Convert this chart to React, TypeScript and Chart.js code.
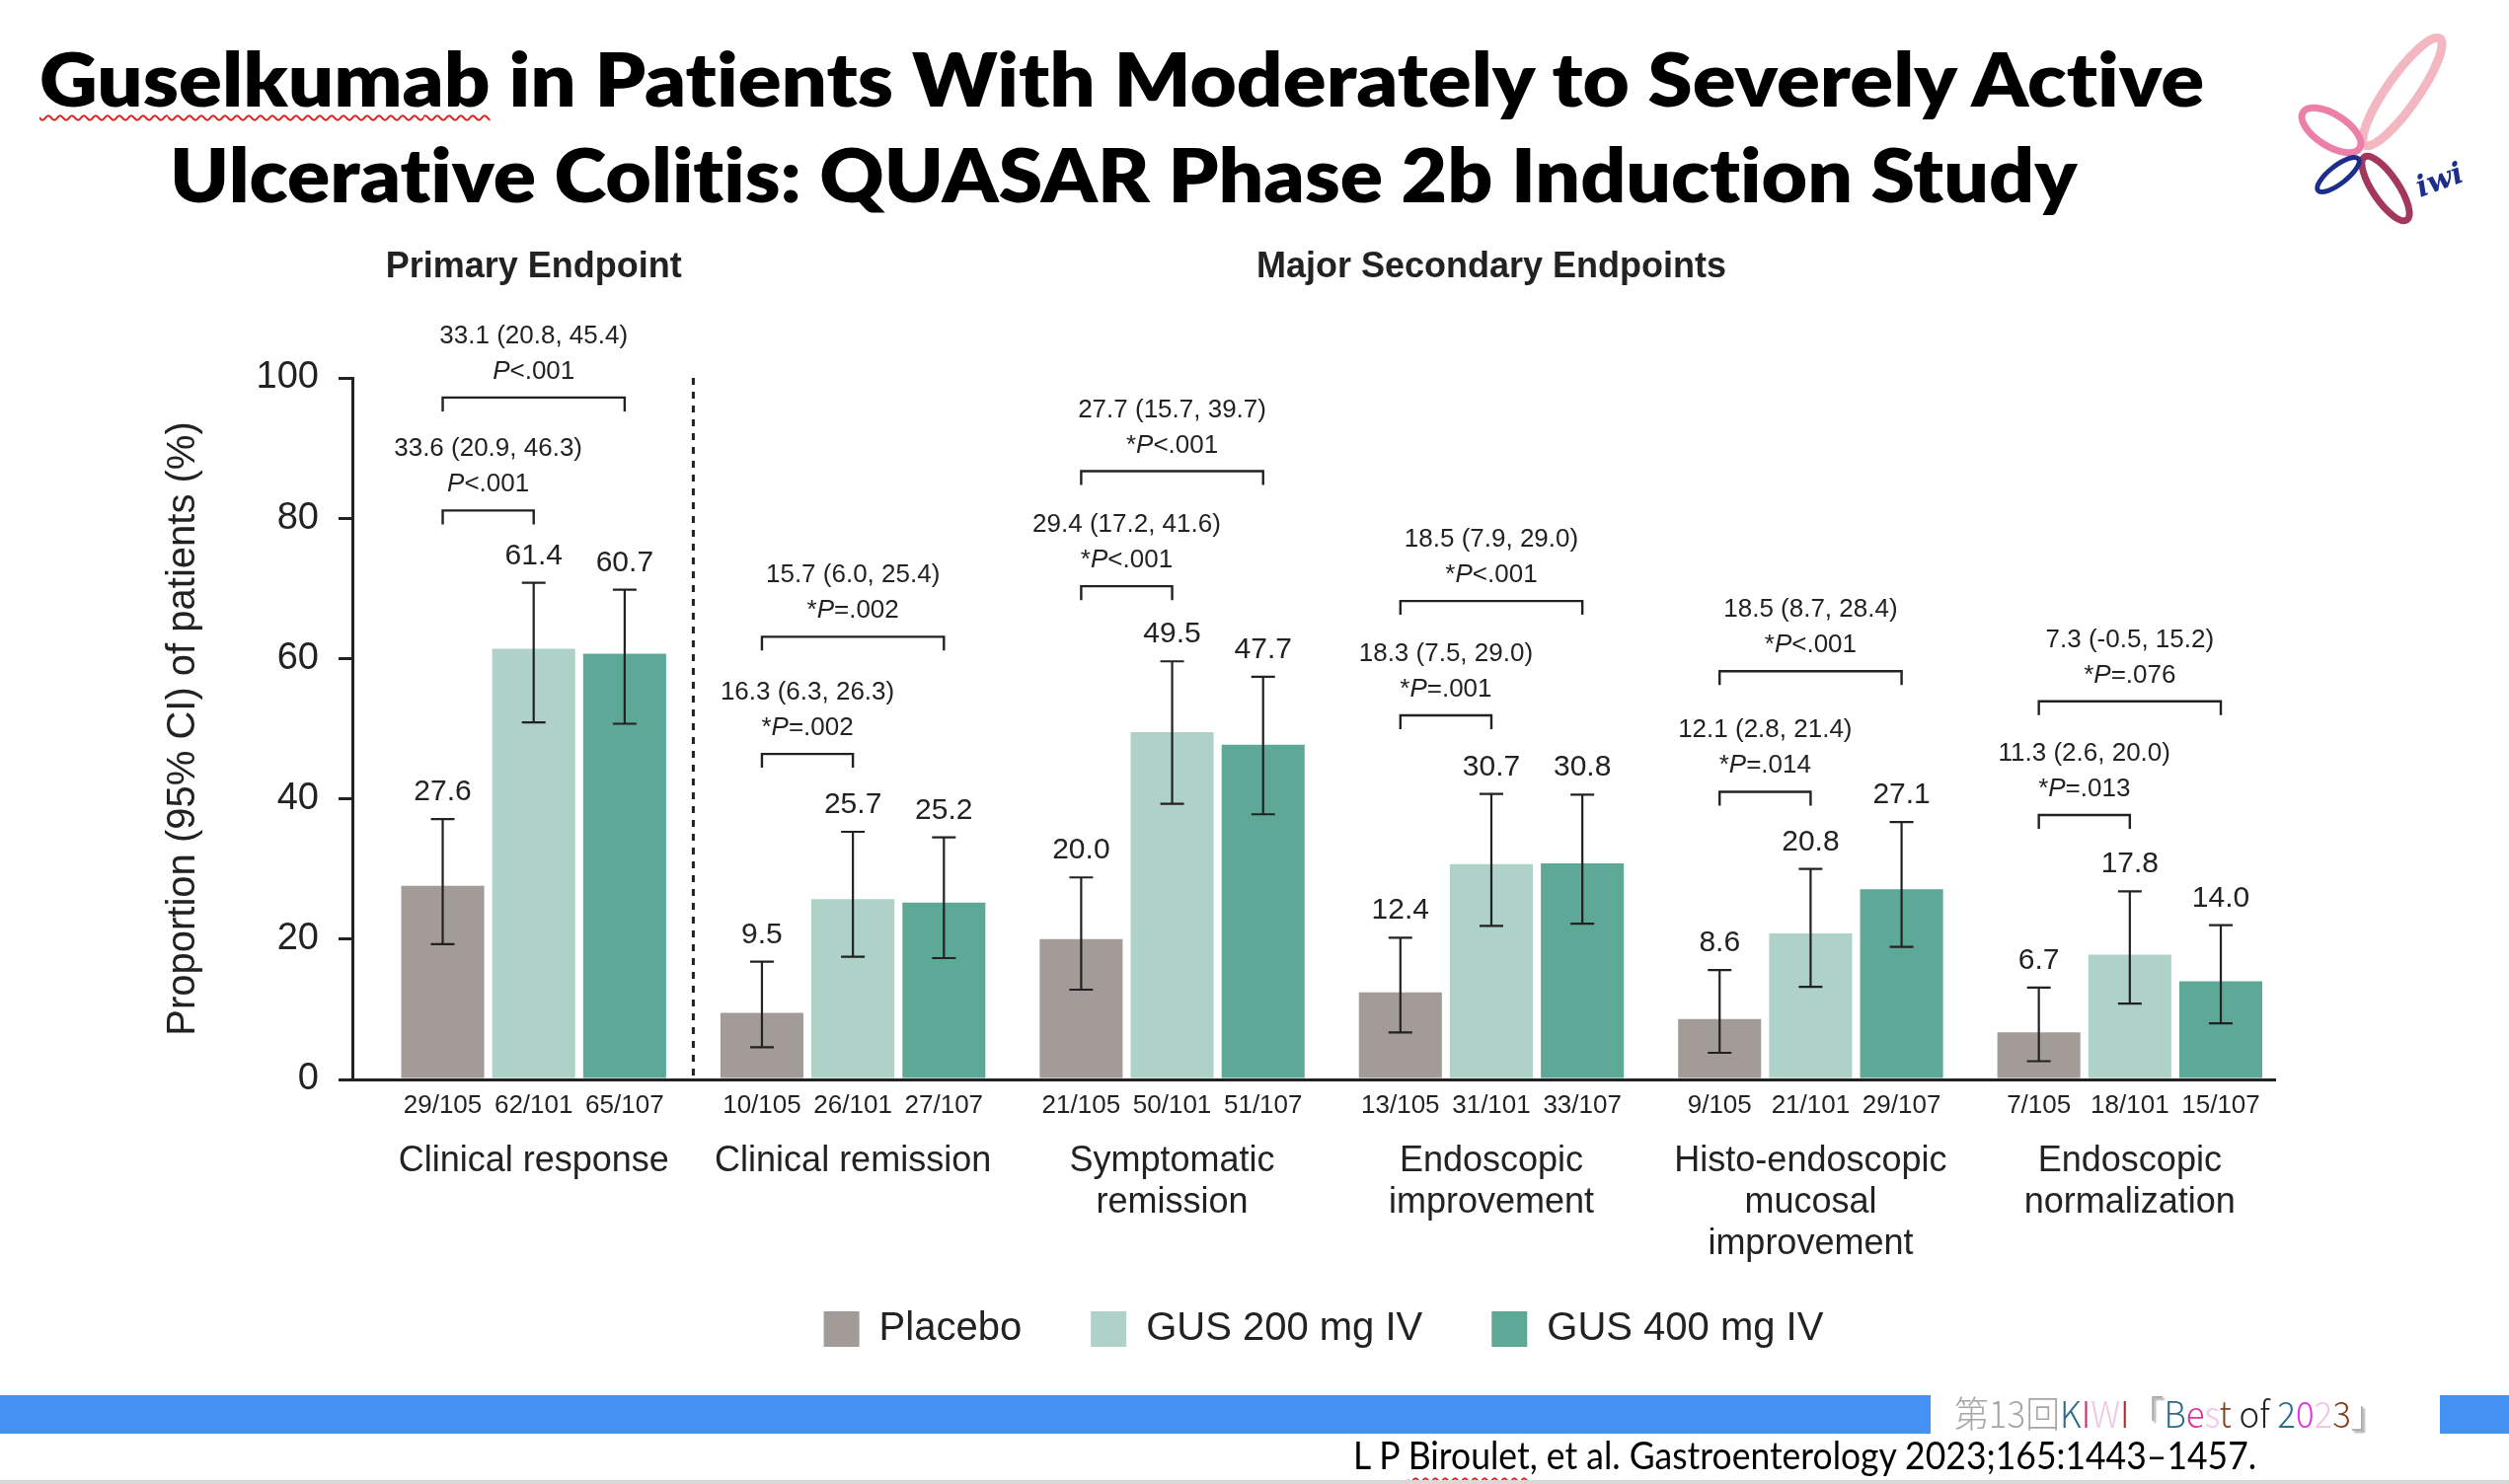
import React, { useEffect, useLayoutEffect, useRef } from "react";
import { Chart, registerables } from "chart.js";

Chart.register(...registerables);

// ---------------- data ----------------
const categories: string[][] = [
  ["Clinical response"],
  ["Clinical remission"],
  ["Symptomatic", "remission"],
  ["Endoscopic", "improvement"],
  ["Histo-endoscopic", "mucosal", "improvement"],
  ["Endoscopic", "normalization"],
];
const seriesNames = ["Placebo", "GUS 200 mg IV", "GUS 400 mg IV"];
const seriesColors = ["#a39b97", "#aed2c7", "#5da897"];

const placebo = [27.6, 9.5, 20.0, 12.4, 8.6, 6.7];
const gus200 = [61.4, 25.7, 49.5, 30.7, 20.8, 17.8];
const gus400 = [60.7, 25.2, 47.7, 30.8, 27.1, 14.0];

const placeboLo = [19.3, 4.6, 12.8, 6.7, 3.8, 2.6];
const placeboHi = [37.1, 16.8, 28.8, 20.2, 15.6, 13.1];
const gus200Lo = [50.9, 17.5, 39.3, 21.9, 13.2, 10.8];
const gus200Hi = [70.8, 35.3, 59.6, 40.7, 30.0, 26.8];
const gus400Lo = [50.7, 17.3, 37.8, 22.2, 18.9, 8.0];
const gus400Hi = [69.8, 34.5, 57.4, 40.6, 36.7, 22.0];

const placeboN = ["29/105", "10/105", "21/105", "13/105", "9/105", "7/105"];
const gus200N = ["62/101", "26/101", "50/101", "31/101", "21/101", "18/101"];
const gus400N = ["65/107", "27/107", "51/107", "33/107", "29/107", "15/107"];

const diff200 = ["33.6 (20.9, 46.3)", "16.3 (6.3, 26.3)", "29.4 (17.2, 41.6)", "18.3 (7.5, 29.0)", "12.1 (2.8, 21.4)", "11.3 (2.6, 20.0)"];
const pVal200 = ["<.001", "=.002", "<.001", "=.001", "=.014", "=.013"];
const diff400 = ["33.1 (20.8, 45.4)", "15.7 (6.0, 25.4)", "27.7 (15.7, 39.7)", "18.5 (7.9, 29.0)", "18.5 (8.7, 28.4)", "7.3 (-0.5, 15.2)"];
const pVal400 = ["<.001", "=.002", "<.001", "<.001", "<.001", "=.076"];
const pStar = [false, true, true, true, true, true];
const bracket200 = [81.1, 46.4, 70.3, 51.9, 41.0, 37.7];
const bracket400 = [97.2, 63.1, 86.7, 68.2, 58.2, 53.9];

const yTickValues = [0, 20, 40, 60, 80, 100];
const yTitle = "Proportion (95% CI) of patients (%)";
const sectionPrimary = "Primary Endpoint";
const sectionSecondary = "Major Secondary Endpoints";
const separatorAt = 0.5;

const titleLine1 = ["Guselkumab", " in Patients With Moderately to Severely Active"];
const titleLine2 = "Ulcerative Colitis: QUASAR Phase 2b Induction Study";
const citation = ["L P ", "Biroulet", ", et al. Gastroenterology 2023;165:1443\u20131457."];

// ---------------- styles ----------------
const FONT = "'Liberation Sans', Arial, Helvetica, sans-serif";
const INK = "#222222";

const annotationPlugin = {
  id: "annotations",
  afterDatasetsDraw(chart: any) {
    const ctx: CanvasRenderingContext2D = chart.ctx;
    const xs = chart.scales.x;
    const ys = chart.scales.y;
    const vals = [placebo, gus200, gus400];
    const los = [placeboLo, gus200Lo, gus400Lo];
    const his = [placeboHi, gus200Hi, gus400Hi];
    const ns = [placeboN, gus200N, gus400N];
    const zero = ys.getPixelForValue(0);
    ctx.save();
    ctx.fillStyle = INK;
    ctx.strokeStyle = INK;
    // error bars, value labels, n/N labels
    for (let d = 0; d < 3; d++) {
      const meta = chart.getDatasetMeta(d);
      meta.data.forEach((bar: any, i: number) => {
        const px = bar.x;
        const top = ys.getPixelForValue(his[d][i]);
        const bot = ys.getPixelForValue(los[d][i]);
        ctx.lineWidth = 2.2;
        ctx.beginPath();
        ctx.moveTo(px, top);
        ctx.lineTo(px, bot);
        ctx.moveTo(px - 12, top);
        ctx.lineTo(px + 12, top);
        ctx.moveTo(px - 12, bot);
        ctx.lineTo(px + 12, bot);
        ctx.stroke();
        ctx.textAlign = "center";
        ctx.textBaseline = "alphabetic";
        ctx.font = `30px ${FONT}`;
        ctx.fillText(vals[d][i].toFixed(1), px, top - 19);
        ctx.font = `26px ${FONT}`;
        ctx.textBaseline = "middle";
        ctx.fillText(ns[d][i], px, zero + 27);
      });
    }
    // brackets
    const m0 = chart.getDatasetMeta(0).data;
    const m1 = chart.getDatasetMeta(1).data;
    const m2 = chart.getDatasetMeta(2).data;
    const drawMixed = (segs: { t: string; it?: boolean }[], cx: number, y: number, size: number) => {
      const fonts = segs.map((s) => `${s.it ? "italic " : ""}${size}px ${FONT}`);
      let total = 0;
      const ws = segs.map((s, k) => {
        ctx.font = fonts[k];
        const w = ctx.measureText(s.t).width;
        total += w;
        return w;
      });
      let x = cx - total / 2;
      ctx.textAlign = "left";
      ctx.textBaseline = "alphabetic";
      segs.forEach((s, k) => {
        ctx.font = fonts[k];
        ctx.fillText(s.t, x, y);
        x += ws[k];
      });
    };
    const drawBracket = (xa: number, xb: number, v: number, l1: string, p: string, star: boolean) => {
      const y = ys.getPixelForValue(v);
      ctx.lineWidth = 2.4;
      ctx.beginPath();
      ctx.moveTo(xa, y + 14);
      ctx.lineTo(xa, y);
      ctx.lineTo(xb, y);
      ctx.lineTo(xb, y + 14);
      ctx.stroke();
      const cx = (xa + xb) / 2;
      drawMixed([{ t: l1 }], cx, y - 55, 26);
      const segs = star ? [{ t: "*" }, { t: "P", it: true }, { t: p }] : [{ t: "P", it: true }, { t: p }];
      drawMixed(segs, cx, y - 19, 26);
    };
    for (let i = 0; i < m0.length; i++) {
      drawBracket(m0[i].x, m1[i].x, bracket200[i], diff200[i], pVal200[i], pStar[i]);
      drawBracket(m0[i].x, m2[i].x, bracket400[i], diff400[i], pVal400[i], pStar[i]);
    }
    // dotted separator
    const sx = xs.getPixelForValue(separatorAt);
    ctx.lineWidth = 3;
    ctx.setLineDash([7, 7]);
    ctx.beginPath();
    ctx.moveTo(sx, ys.getPixelForValue(100));
    ctx.lineTo(sx, zero);
    ctx.stroke();
    ctx.setLineDash([]);
    // section headers
    ctx.font = `bold 36px ${FONT}`;
    ctx.textAlign = "center";
    ctx.textBaseline = "middle";
    const hy = ys.getPixelForValue(100) - 112;
    ctx.fillText(sectionPrimary, xs.getPixelForValue(0), hy);
    ctx.fillText(sectionSecondary, (xs.getPixelForValue(1) + xs.getPixelForValue(categories.length - 1)) / 2, hy);
    ctx.restore();
  },
};

// places the legend row: centred under the plot, row centre at a fixed height
const legendShiftPlugin = {
  id: "legendShift",
  beforeDraw(chart: any) {
    const lg = chart.legend;
    if (!lg || !lg.lineWidths) return;
    const pad = lg.options.labels.padding;
    const lw = lg.lineWidths[0];
    const center = 1341;
    const start = center - (lw - pad) / 2;
    lg.left = 2 * start - pad - lg.right + lw;
    const rowCenter = 1347;
    const h = lg.bottom - lg.top;
    lg.top = rowCenter - pad - 20;
    lg.bottom = lg.top + h;
  },
};

function FitText(props: {
  left: number;
  top: number;
  width: number;
  fontSize: number;
  family: string;
  weight?: number;
  color?: string;
  children: React.ReactNode;
}) {
  const ref = useRef<HTMLDivElement>(null);
  useLayoutEffect(() => {
    const fit = () => {
      const el = ref.current;
      if (!el) return;
      const w = el.offsetWidth;
      if (w > 0) el.style.transform = `scaleX(${props.width / w})`;
    };
    fit();
    (document as any).fonts?.ready?.then(fit);
  }, []);
  return (
    <div
      ref={ref}
      style={{
        position: "absolute",
        left: props.left,
        top: props.top,
        whiteSpace: "nowrap",
        fontFamily: props.family,
        fontSize: props.fontSize,
        fontWeight: props.weight ?? 400,
        lineHeight: `${props.fontSize}px`,
        color: props.color ?? "#000",
        transformOrigin: "0 0",
        display: "inline-block",
        fontVariantLigatures: "none",
        fontFeatureSettings: '"liga" 0, "clig" 0',
      }}
    >
      {props.children}
    </div>
  );
}

const wavy: React.CSSProperties = {
  textDecorationLine: "underline",
  textDecorationStyle: "wavy",
  textDecorationColor: "#e0201a",
  textDecorationThickness: "2px",
  textUnderlineOffset: "8px",
};

const kiwiSegs: [string, string][] = [
  ["第13回", "#a6a6a6"],
  ["K", "#2f6b8c"],
  ["I", "#d42a6a"],
  ["W", "#efc6e6"],
  ["I", "#b02a2a"],
  ["「", "#a6a6a6"],
  ["B", "#2f6b8c"],
  ["e", "#e0309a"],
  ["s", "#efc6e6"],
  ["t", "#8b3a1a"],
  [" of ", "#222222"],
  ["2", "#2f6b8c"],
  ["0", "#e030e0"],
  ["2", "#efc6e6"],
  ["3", "#8b3a1a"],
  ["」", "#a6a6a6"],
];

function ChartCanvas() {
  const ref = useRef<HTMLCanvasElement>(null);
  useEffect(() => {
    const canvas = ref.current;
    if (!canvas) return;
    const valueSets = [placebo, gus200, gus400];
    const chart = new Chart(canvas, {
      type: "bar",
      data: {
        datasets: valueSets.map((vals, d) => ({
          label: seriesNames[d],
          data: vals.map((v, i) => ({ x: i, y: v })),
          backgroundColor: seriesColors[d],
          borderWidth: 0,
          categoryPercentage: 0.855,
          barPercentage: 0.912,
        })),
      },
      options: {
        responsive: false,
        animation: false,
        events: [],
        layout: { padding: { top: 383, left: 0, right: 237, bottom: 90 } },
        scales: {
          x: {
            type: "linear",
            min: -0.568,
            max: 5.455,
            offset: false,
            grid: { display: false, drawTicks: false },
            border: { display: true, color: INK, width: 3 },
            afterBuildTicks: (scale: any) => {
              scale.ticks = categories.map((_, i) => ({ value: i }));
            },
            afterFit: (scale: any) => {
              scale.height = 200;
            },
            ticks: {
              autoSkip: false,
              maxRotation: 0,
              minRotation: 0,
              padding: 62,
              color: INK,
              font: { family: FONT, size: 36, lineHeight: 42 / 36 },
              callback: (v: any) => categories[Math.round(Number(v))],
            },
          },
          y: {
            min: 0,
            max: 100,
            afterBuildTicks: (scale: any) => {
              scale.ticks = yTickValues.map((v) => ({ value: v }));
            },
            afterFit: (scale: any) => {
              scale.width = 357;
            },
            ticks: {
              padding: 20,
              color: INK,
              font: { family: FONT, size: 38 },
            },
            grid: {
              display: true,
              drawOnChartArea: false,
              drawTicks: true,
              tickLength: 14,
              color: INK,
              lineWidth: 3,
            },
            border: { display: true, color: INK, width: 3 },
            title: {
              display: true,
              text: yTitle,
              color: INK,
              font: { family: FONT, size: 40 },
              padding: { top: 162, bottom: 0 },
            },
          },
        },
        plugins: {
          title: { display: false },
          tooltip: { enabled: false },
          legend: {
            display: true,
            position: "bottom",
            labels: {
              boxWidth: 36,
              boxHeight: 36,
              padding: 70,
              color: INK,
              font: { family: FONT, size: 40 },
            },
          },
        },
      } as any,
      plugins: [annotationPlugin, legendShiftPlugin],
    });
    return () => chart.destroy();
  }, []);
  return (
    <canvas
      ref={ref}
      width={2542}
      height={1504}
      style={{ position: "absolute", left: 0, top: 0, width: 2542, height: 1504 }}
    />
  );
}

function Logo() {
  return (
    <svg
      width={242}
      height={240}
      style={{ position: "absolute", left: 2300, top: 0 }}
      viewBox="2300 0 242 240"
    >
      <ellipse cx={2434} cy={93} rx={66} ry={16} fill="none" stroke="#f3b7c1" strokeWidth={9} transform="rotate(-55 2434 93)" />
      <ellipse cx={2362} cy={132} rx={34} ry={16} fill="none" stroke="#ec7fa7" strokeWidth={7} transform="rotate(32.4 2362 132)" />
      <ellipse cx={2417} cy={191} rx={38.5} ry={13} fill="none" stroke="#a3375c" strokeWidth={7} transform="rotate(56 2417 191)" />
      <ellipse cx={2369} cy={177} rx={26} ry={9} fill="none" stroke="#1b2e8c" strokeWidth={5} transform="rotate(-37.9 2369 177)" />
      <text
        x={2452}
        y={200}
        fill="#1b2e8c"
        fontFamily="'DejaVu Serif', serif"
        fontStyle="italic"
        fontWeight={700}
        fontSize={30}
        transform="rotate(-20 2452 200)"
      >
        iwi
      </text>
    </svg>
  );
}

export default function App() {
  return (
    <div
      style={{
        position: "absolute",
        left: 0,
        top: 0,
        width: 2542,
        height: 1504,
        overflow: "hidden",
        background: "#ffffff",
      }}
    >
      <ChartCanvas />
      <FitText left={40} top={42} width={2193} fontSize={75} family="Lato, 'Open Sans', sans-serif" weight={800}>
        <span style={wavy}>{titleLine1[0]}</span>
        {titleLine1[1]}
      </FitText>
      <FitText left={172} top={139} width={1932} fontSize={75} family="Lato, 'Open Sans', sans-serif" weight={800}>
        {titleLine2}
      </FitText>
      <Logo />
      <div style={{ position: "absolute", left: 0, top: 1414, width: 1956, height: 39, background: "#4493f4" }} />
      <div style={{ position: "absolute", left: 2472, top: 1414, width: 70, height: 39, background: "#4493f4" }} />
      <FitText left={1980} top={1413} width={437} fontSize={37} family="'Noto Sans CJK JP', sans-serif" weight={300}>
        {kiwiSegs.map(([t, c], k) => (
          <span
            key={k}
            style={{ color: c, textShadow: t === "「" || t === "」" ? "2px 2px 2px #9a9a9a" : undefined }}
          >
            {t}
          </span>
        ))}
      </FitText>
      <FitText left={1371} top={1455} width={915} fontSize={39} family="Lato, 'Open Sans', sans-serif">
        {citation[0]}
        <span style={wavy}>{citation[1]}</span>
        {citation[2]}
      </FitText>
      <div style={{ position: "absolute", left: 0, top: 1500, width: 2542, height: 4, background: "#d9d9d9" }} />
    </div>
  );
}
